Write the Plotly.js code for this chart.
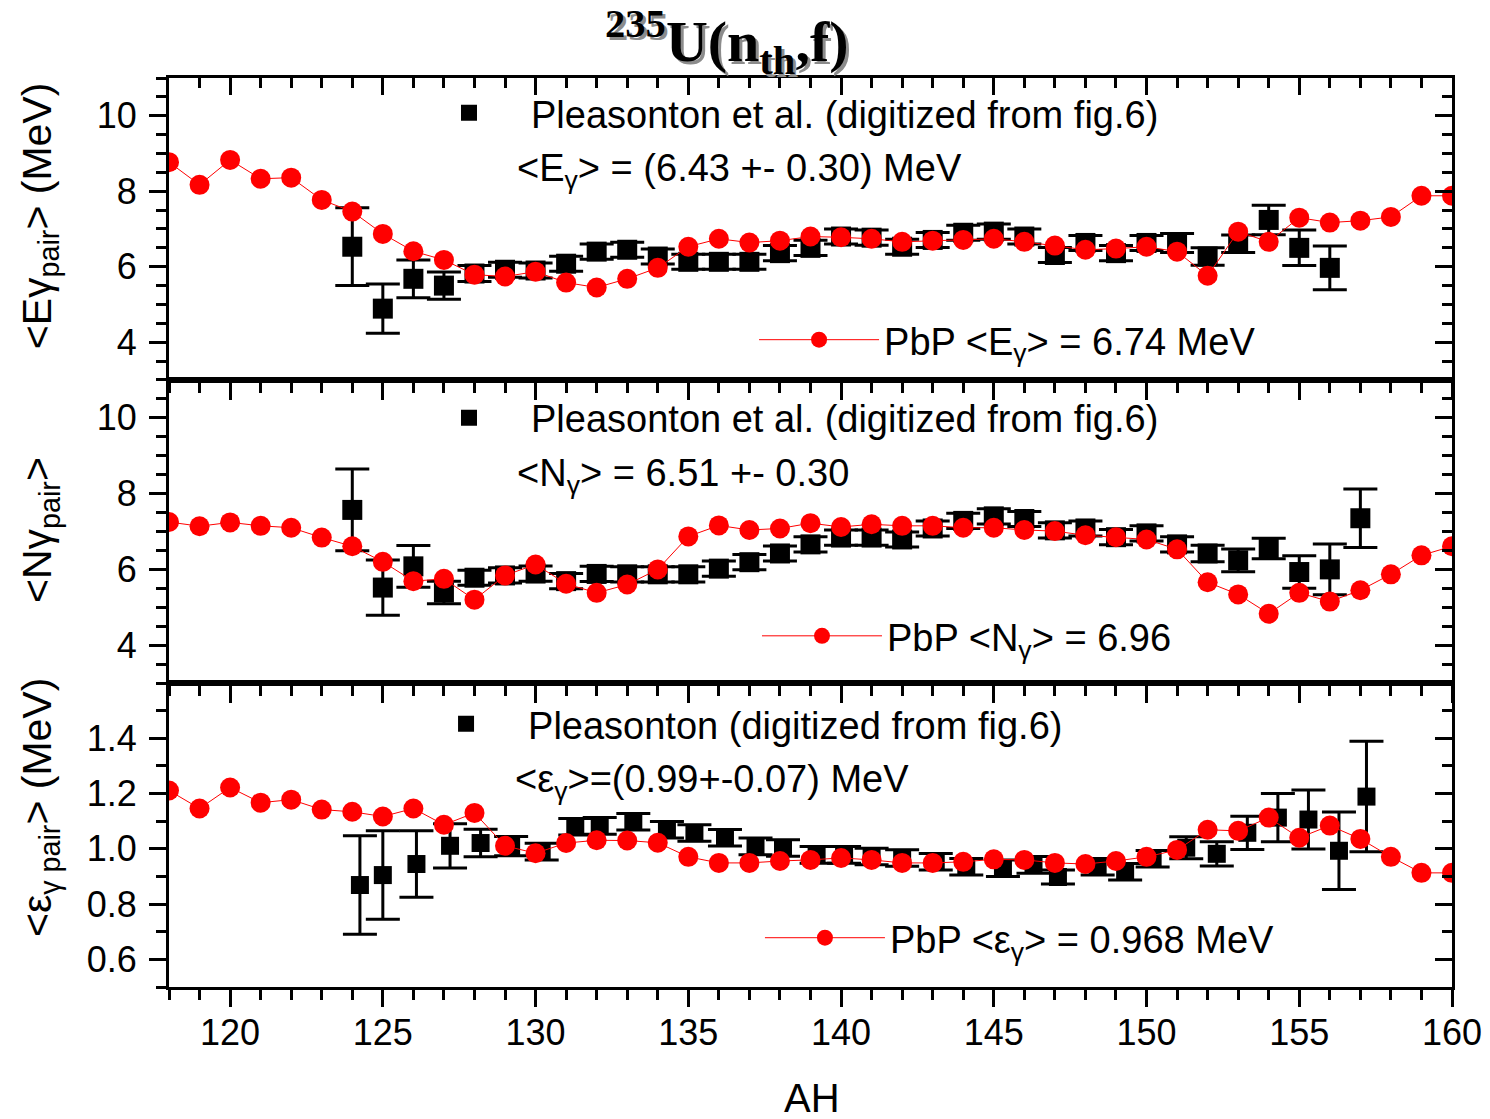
<!DOCTYPE html>
<html>
<head>
<meta charset="utf-8">
<script src="https://cdn.plot.ly/plotly-3.0.1.min.js"></script>
<style>html,body{margin:0;padding:0;background:#fff}</style>
</head>
<body>
<div id="chart" style="width:1490px;height:1119px"></div>
<script>
// Heavy-fragment mass numbers used by the PbP calculation
const massPbP = [118,119,120,121,122,123,124,125,126,127,128,129,130,131,132,133,134,135,136,137,138,139,140,
                 141,142,143,144,145,146,147,148,149,150,151,152,153,154,155,156,157,158,159,160];
// PbP: average total gamma energy of the fragment pair (MeV)
const energyPbP = [8.77,8.17,8.83,8.33,8.36,7.77,7.46,6.87,6.41,6.18,5.79,5.74,5.87,5.58,5.45,5.68,5.97,6.53,6.74,6.64,6.69,6.80,6.78,
                   6.74,6.66,6.69,6.71,6.74,6.66,6.56,6.45,6.48,6.53,6.40,5.76,6.93,6.66,7.30,7.17,7.22,7.32,7.88,7.88];
// PbP: average gamma multiplicity of the pair
const multPbP = [7.25,7.14,7.24,7.15,7.10,6.84,6.61,6.20,5.69,5.75,5.20,5.84,6.13,5.62,5.38,5.60,6.00,6.87,7.16,7.04,7.08,7.22,7.12,
                 7.19,7.15,7.15,7.10,7.10,7.04,7.01,6.90,6.85,6.79,6.53,5.66,5.34,4.83,5.38,5.15,5.45,5.87,6.37,6.61];
// PbP: average gamma energy per photon (MeV)
const epsPbP = [1.211,1.146,1.222,1.167,1.178,1.142,1.134,1.117,1.146,1.087,1.130,1.011,0.984,1.021,1.031,1.030,1.022,0.971,0.949,0.949,0.956,0.960,0.967,
                0.960,0.949,0.949,0.953,0.962,0.960,0.949,0.945,0.956,0.971,0.996,1.069,1.065,1.113,1.040,1.084,1.036,0.971,0.913,0.913];

// Pleasonton et al.: total gamma energy
const massExpE = [124,125,126,127,128,129,130,131,132,133,134,135,136,137,138,139,140,141,142,143,144,145,146,147,148,149,150,151,152,153,154,155,156];
const energyExp = [6.53,4.89,5.68,5.50,5.82,5.92,5.90,6.08,6.40,6.45,6.27,6.13,6.13,6.13,6.36,6.50,6.80,6.77,6.53,6.71,6.90,6.93,6.80,6.31,6.63,6.36,6.63,6.63,6.27,6.61,7.24,6.50,5.97];
const energyExpErr = [1.03,0.65,0.50,0.36,0.21,0.20,0.20,0.20,0.20,0.20,0.20,0.20,0.20,0.20,0.20,0.20,0.20,0.20,0.20,0.20,0.20,0.20,0.20,0.20,0.20,0.20,0.20,0.25,0.23,0.23,0.39,0.47,0.58];

// Pleasonton et al.: gamma multiplicity
const massExpN = [124,125,126,127,128,129,130,131,132,133,134,135,136,137,138,139,140,141,142,143,144,145,146,147,148,149,150,151,152,153,154,155,156,157];
const multExp = [7.57,5.52,6.08,5.39,5.78,5.84,5.89,5.69,5.88,5.87,5.87,5.87,6.02,6.19,6.42,6.66,6.84,6.84,6.79,7.08,7.28,7.40,7.33,7.03,7.08,6.85,6.95,6.66,6.42,6.24,6.55,5.93,6.00,7.35];
const multExpErr = [1.08,0.73,0.55,0.30,0.20,0.20,0.20,0.20,0.20,0.20,0.20,0.20,0.20,0.20,0.20,0.20,0.20,0.20,0.20,0.20,0.20,0.20,0.20,0.20,0.20,0.20,0.20,0.20,0.22,0.30,0.27,0.43,0.67,0.77];

// Pleasonton: average gamma energy per photon
const massExpEps = [124.25,125.0,126.1,127.2,128.2,129.2,130.2,131.3,132.1,133.2,134.3,135.2,136.2,137.2,138.1,139.2,140.1,141.0,142.0,143.1,144.1,145.3,146.3,147.1,148.4,149.3,150.2,151.3,152.3,153.3,154.3,155.3,156.3,157.2];
const epsExp = [0.869,0.905,0.945,1.011,1.021,1.010,0.990,1.080,1.083,1.098,1.069,1.057,1.040,1.009,1.003,0.978,0.978,0.972,0.967,0.953,0.935,0.930,0.942,0.898,0.935,0.917,0.964,1.004,0.982,1.058,1.113,1.106,0.993,1.189];
const epsExpErr = [0.178,0.160,0.120,0.080,0.050,0.035,0.030,0.030,0.030,0.030,0.030,0.030,0.030,0.030,0.030,0.030,0.030,0.030,0.030,0.030,0.030,0.030,0.030,0.025,0.030,0.030,0.030,0.040,0.044,0.060,0.087,0.107,0.140,0.200];

// Axis ranges and labelled ticks
const massRange = [118, 160];
const gammaRange = [3, 11];
const epsRange = [0.5, 1.6];
const epsTicks = [0.6, 0.8, 1.0, 1.2, 1.4];

// Legend and note texts
const expLabelFull = 'Pleasonton et al. (digitized from fig.6)';
const expLabelShort = 'Pleasonton (digitized from fig.6)';
const pbpLabelE = 'PbP &lt;E<sub>γ</sub>&gt; = 6.74 MeV';
const pbpLabelN = 'PbP &lt;N<sub>γ</sub>&gt; = 6.96';
const pbpLabelEps = 'PbP &lt;ε<sub>γ</sub>&gt; = 0.968 MeV';
const noteE = '&lt;E<sub>γ</sub>&gt; = (6.43 +- 0.30) MeV';
const noteN = '&lt;N<sub>γ</sub>&gt; = 6.51 +- 0.30';
const noteEps = '&lt;ε<sub>γ</sub>&gt;=(0.99+-0.07) MeV';

const FONT = 'Arial, "Liberation Sans", Helvetica, sans-serif';
const SERIF = '"Times New Roman", "Liberation Serif", Times, serif';
const RED = '#ff0000';

function expTrace(x, y, err, xa, ya, leg, size, name) {
  return {
    type: 'scatter', mode: 'markers', x: x, y: y, name: name,
    xaxis: xa, yaxis: ya, legend: leg,
    marker: {symbol: 'square', size: size, color: '#000'},
    error_y: {type: 'data', array: err, visible: true, color: '#000', thickness: 3, width: 17},
    hoverinfo: 'x+y'
  };
}
function pbpTrace(x, y, xa, ya, leg, name) {
  return {
    type: 'scatter', mode: 'lines+markers', x: x, y: y, name: name,
    xaxis: xa, yaxis: ya, legend: leg,
    line: {color: RED, width: 1},
    marker: {symbol: 'circle', size: 20, color: RED},
    hoverinfo: 'x+y'
  };
}
// empty traces so the mirrored top/right axes have a subplot to live on
function frameTrace(xa, ya) {
  return {type: 'scatter', x: [], y: [], xaxis: xa, yaxis: ya, showlegend: false, hoverinfo: 'skip'};
}

const traces = [
  expTrace(massExpE, energyExp, energyExpErr, 'x', 'y', 'legend', 20, expLabelFull),
  pbpTrace(massPbP, energyPbP, 'x', 'y', 'legend2', pbpLabelE),
  expTrace(massExpN, multExp, multExpErr, 'x2', 'y2', 'legend3', 20, expLabelFull),
  pbpTrace(massPbP, multPbP, 'x2', 'y2', 'legend4', pbpLabelN),
  expTrace(massExpEps, epsExp, epsExpErr, 'x3', 'y3', 'legend5', 18, expLabelShort),
  pbpTrace(massPbP, epsPbP, 'x3', 'y3', 'legend6', pbpLabelEps),
  frameTrace('x4', 'y'), frameTrace('x5', 'y2'), frameTrace('x6', 'y3'),
  frameTrace('x', 'y4'), frameTrace('x2', 'y5'), frameTrace('x3', 'y6')
];

const baseAxis = {
  showline: true, linecolor: '#000', linewidth: 3, showgrid: false, zeroline: false,
  ticklen: 17, tickwidth: 3, tickcolor: '#000',
  tickfont: {family: FONT, size: 36, color: '#000'}
};
function xAxis(anchor, labels) {
  return Object.assign({}, baseAxis, {
    anchor: anchor, range: massRange, tick0: 0, dtick: 5, ticks: 'outside',
    showticklabels: labels, ticklabelstandoff: -5,
    minor: {ticks: 'outside', dtick: 1, ticklen: 10, tickwidth: 3, tickcolor: '#000'}
  });
}
function xTop(over, anchor) {
  return Object.assign({}, baseAxis, {
    overlaying: over, anchor: anchor, side: 'top', range: massRange, tick0: 0, dtick: 5,
    ticks: 'inside', showticklabels: false,
    minor: {ticks: 'inside', dtick: 1, ticklen: 10, tickwidth: 3, tickcolor: '#000'}
  });
}
function yAxis(anchor, domain, range, major, minor, tickvals) {
  const a = Object.assign({}, baseAxis, {
    anchor: anchor, domain: domain, range: range, ticks: 'outside', ticklabelstandoff: 5,
    minor: {ticks: 'outside', dtick: minor, ticklen: 10, tickwidth: 3, tickcolor: '#000'}
  });
  if (tickvals) { a.tickmode = 'array'; a.tickvals = tickvals; a.tickformat = '.1f'; }
  else { a.tick0 = 0; a.dtick = major; }
  return a;
}
function yRight(over, anchor, range, major, minor, tickvals) {
  const a = Object.assign({}, baseAxis, {
    overlaying: over, anchor: anchor, side: 'right', range: range, ticks: 'inside', showticklabels: false,
    minor: {ticks: 'inside', dtick: minor, ticklen: 10, tickwidth: 3, tickcolor: '#000'}
  });
  if (tickvals) { a.tickmode = 'array'; a.tickvals = tickvals; }
  else { a.tick0 = 0; a.dtick = major; }
  return a;
}

function legendBox(x, y, itemwidth) {
  return {x: x, y: y, xanchor: 'left', yanchor: 'middle', bgcolor: 'rgba(0,0,0,0)', borderwidth: 0,
          font: {family: FONT, size: 38, color: '#000'}, itemwidth: itemwidth, tracegroupgap: 0};
}

const dom1 = [0.6678, 1], dom2 = [0.3344, 0.6678], dom3 = [0, 0.3344];

function note(text, x, y) {
  return {text: text, xref: 'paper', yref: 'paper', x: x, y: y, xanchor: 'left', yanchor: 'middle',
          showarrow: false, font: {family: FONT, size: 38, color: '#000'}};
}
function yTitle(text, y) {
  return {text: text, xref: 'paper', yref: 'paper', x: -0.1005, y: y, xanchor: 'center', yanchor: 'middle',
          textangle: -90, showarrow: false, font: {family: FONT, size: 41, color: '#000'}};
}
const titleText = '<b><sup>235</sup>U(n<sub>th</sub>,f)</b>';

const layout = {
  width: 1490, height: 1119,
  margin: {l: 169, r: 38, t: 78, b: 132},
  paper_bgcolor: '#fff', plot_bgcolor: '#fff',
  font: {family: FONT, color: '#000'},
  showlegend: true,
  xaxis: xAxis('y', false),
  xaxis2: xAxis('y2', false),
  xaxis3: xAxis('y3', true),
  xaxis4: xTop('x', 'y'),
  xaxis5: xTop('x2', 'y2'),
  xaxis6: xTop('x3', 'y3'),
  yaxis: yAxis('x', dom1, gammaRange, 2, 0.5),
  yaxis2: yAxis('x2', dom2, gammaRange, 2, 0.5),
  yaxis3: yAxis('x3', dom3, epsRange, 0.2, 0.1, epsTicks),
  yaxis4: yRight('y', 'x', gammaRange, 2, 0.5),
  yaxis5: yRight('y2', 'x2', gammaRange, 2, 0.5),
  yaxis6: yRight('y3', 'x3', epsRange, 0.2, 0.1, epsTicks),
  legend: legendBox(0.1855, 0.9615, 114),
  legend2: legendBox(0.456, 0.7118, 120),
  legend3: legendBox(0.1855, 0.626, 114),
  legend4: legendBox(0.4583, 0.386, 120),
  legend5: legendBox(0.1832, 0.2893, 114),
  legend6: legendBox(0.4606, 0.0539, 120),
  annotations: [
    note(noteE, 0.2697, 0.898),
    note(noteN, 0.2697, 0.5622),
    note(noteEps, 0.2681, 0.2256),
    yTitle('&lt;Eγ<sub>pair</sub>&gt; (MeV)', 0.848),
    yTitle('&lt;Nγ<sub>pair</sub>&gt;', 0.5028),
    yTitle('&lt;ε<sub>γ pair</sub>&gt; (MeV)', 0.197),
    {text: 'AH', xref: 'paper', yref: 'paper', x: 0.501, y: -0.1225, xanchor: 'center', yanchor: 'middle',
     showarrow: false, font: {family: FONT, size: 40, color: '#000'}},
    {text: titleText, xref: 'paper', yref: 'paper', x: 0.435, y: 1.0396, xanchor: 'center', yanchor: 'middle',
     showarrow: false, font: {family: SERIF, size: 58, color: '#000', shadow: '3px 3px 0px #8c8c8c'}}
  ]
};

Plotly.newPlot('chart', traces, layout, {displayModeBar: false, staticPlot: true});
</script>
</body>
</html>
